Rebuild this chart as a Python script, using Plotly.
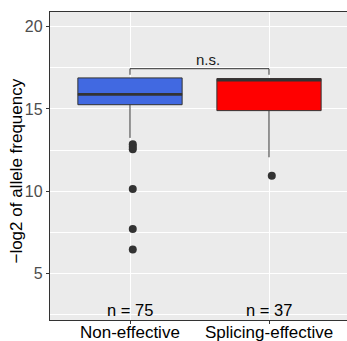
import plotly.graph_objects as go

categories = ["Non-effective", "Splicing-effective"]
cat_pos = [1, 2]
fill_colors = ["#4169E1", "#FF0000"]
q1 = [15.26, 14.9]
median = [15.89, 16.75]
q3 = [16.89, 16.85]
lower_fence = [13.24, 12.06]
upper_fence = [16.89, 16.85]
counts = [75, 37]

outlier_x = [1.02, 1.02, 1.02, 1.02, 1.02, 1.02, 2.02]
outlier_y = [12.85, 12.7, 12.55, 10.13, 7.7, 6.45, 10.94]

bracket_y = 17.45
bracket_tip = 17.08
sig_label = "n.s."
y_title = "−log2 of allele frequency"

y_ticks = [5, 10, 15, 20]
y_range = [2.16, 20.9]
x_range = [0.4245, 2.561]
box_width = 0.75

fig = go.Figure()

for i, c in enumerate(categories):
    fig.add_trace(go.Box(
        x=[cat_pos[i]], q1=[q1[i]], median=[median[i]], q3=[q3[i]],
        lowerfence=[lower_fence[i]], upperfence=[upper_fence[i]],
        fillcolor=fill_colors[i], line=dict(color="#333333", width=1),
        width=box_width, whiskerwidth=0, boxpoints=False, showlegend=False,
        hoverinfo="skip",
    ))
    # thicker median line
    fig.add_trace(go.Scatter(
        x=[cat_pos[i] - box_width / 2, cat_pos[i] + box_width / 2],
        y=[median[i], median[i]], mode="lines",
        line=dict(color="#333333", width=2.6), showlegend=False, hoverinfo="skip",
    ))

fig.add_trace(go.Scatter(
    x=outlier_x, y=outlier_y, mode="markers",
    marker=dict(color="#333333", size=8), showlegend=False,
))

fig.add_trace(go.Scatter(
    x=[cat_pos[0], cat_pos[0], cat_pos[1], cat_pos[1]],
    y=[bracket_tip, bracket_y, bracket_y, bracket_tip], mode="lines",
    line=dict(color="#333333", width=1), showlegend=False,
))

fig.add_annotation(x=(cat_pos[0] + cat_pos[1]) / 2 + 0.06, y=bracket_y, text=sig_label,
                   showarrow=False, yanchor="bottom", yshift=-1,
                   font=dict(family="Liberation Sans", size=15, color="#1a1a1a"))

for i, n in enumerate(counts):
    fig.add_annotation(x=cat_pos[i], y=y_range[0], text=f"n = {n}", showarrow=False,
                       yanchor="bottom", yshift=-1,
                       font=dict(family="Liberation Sans", size=16.5, color="black"))

# category labels (placed closer to the axis than plotly's tick labels)
for i, c in enumerate(categories):
    fig.add_annotation(x=cat_pos[i], xref="x", y=0, yref="paper", text=c, showarrow=False,
                       yanchor="top", yshift=-1,
                       font=dict(family="Liberation Sans", size=17, color="black"))

# y axis title
fig.add_annotation(x=0, xref="paper", xshift=-33, y=0.482, yref="paper", text=y_title,
                   textangle=-90, showarrow=False, xanchor="center", yanchor="middle",
                   font=dict(family="Liberation Sans", size=17, color="black"))

fig.update_layout(
    width=347, height=341,
    margin=dict(l=50, r=0, t=12, b=21),
    paper_bgcolor="white", plot_bgcolor="#EBEBEB",
    font=dict(family="Liberation Sans"),
    xaxis=dict(
        range=x_range, tickvals=cat_pos, ticktext=categories, automargin=False,
        showticklabels=False,
        showgrid=True, gridcolor="white", gridwidth=1,
        showline=True, linecolor="#333333", linewidth=1.3, mirror=True,
        ticks="outside", ticklen=3, tickcolor="#333333",
        zeroline=False,
    ),
    yaxis=dict(
        range=y_range, tickvals=y_ticks, automargin=False,
        showgrid=True, gridcolor="white", gridwidth=1.2,
        minor=dict(dtick=2.5, tick0=0, showgrid=True, gridcolor="white", gridwidth=0.6),
        showline=True, linecolor="#333333", linewidth=1.3, mirror=True,
        ticks="outside", ticklen=3, tickcolor="#333333",
        tickfont=dict(size=16, color="#4D4D4D"), zeroline=False,
    ),
)

fig.write_html("out.html", config={"displayModeBar": False},
               post_script="document.body.style.margin='0';document.body.style.overflow='hidden';")
